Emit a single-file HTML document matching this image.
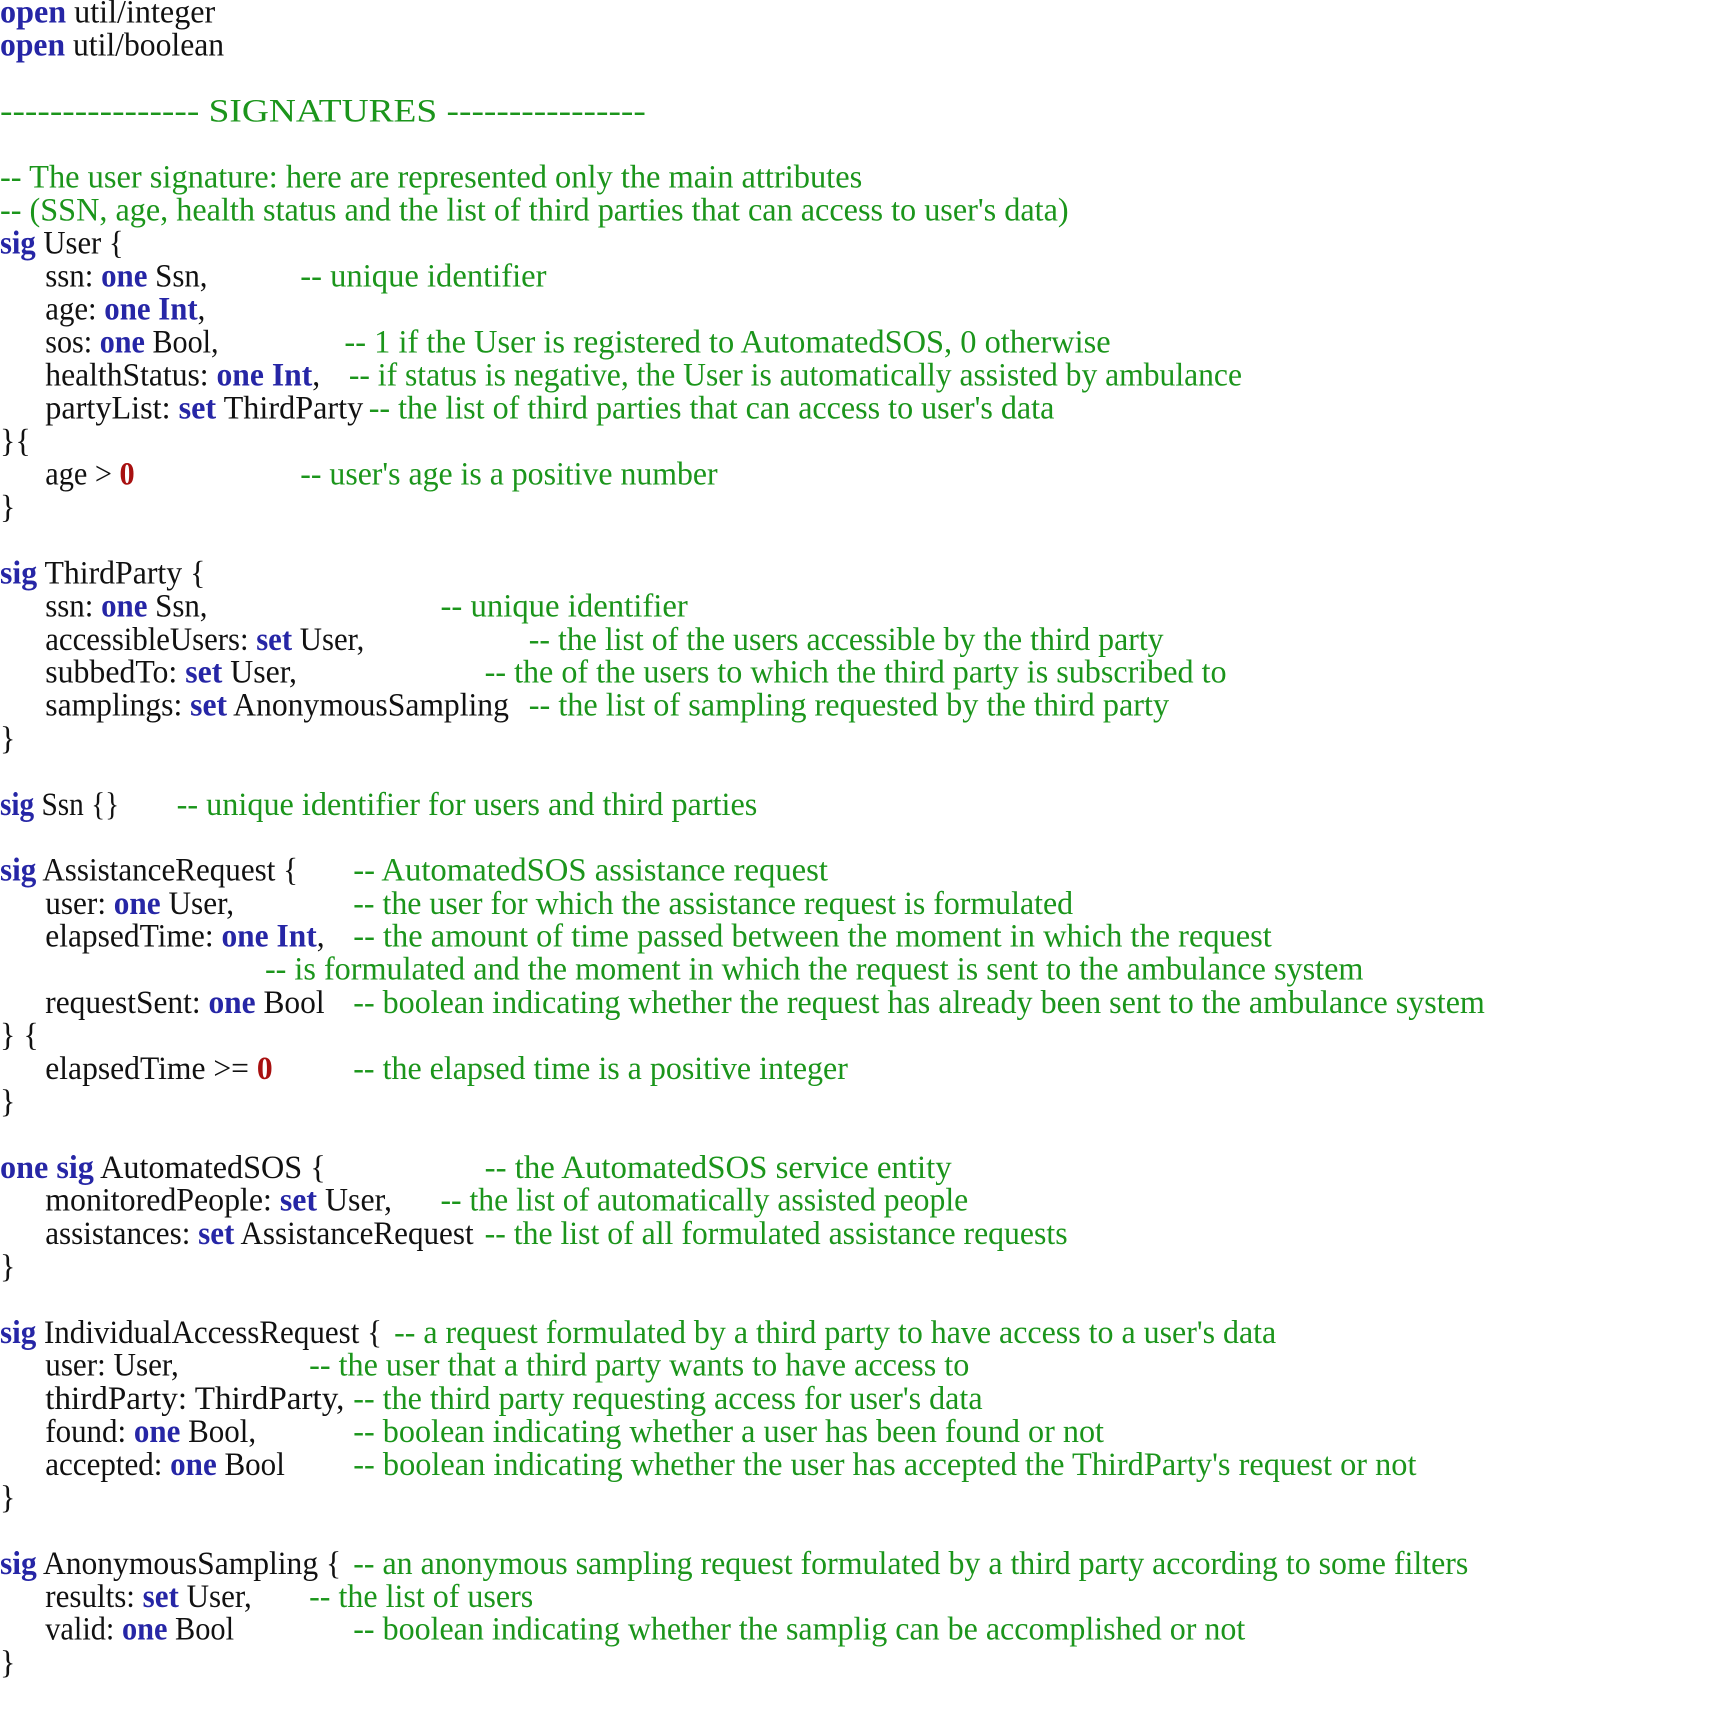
<!DOCTYPE html>
<html><head><meta charset="utf-8"><style>
html,body{margin:0;padding:0;background:#fff;width:1730px;height:1709px;overflow:hidden}
text{font-family:"Liberation Serif",serif;font-size:29px;fill:#111}
.k{fill:#2626a6;font-weight:bold}.c{fill:#1b951b}.n{fill:#a81010;font-weight:bold}
</style></head><body>
<svg width="1730" height="1709" viewBox="0 0 1730 1709" xmlns="http://www.w3.org/2000/svg">
<g transform="scale(1.104,1.1126)">
<text x="0" y="20.4" textLength="195" lengthAdjust="spacingAndGlyphs"><tspan class="k">open</tspan> util/integer</text>
<text x="0" y="50.1" textLength="203" lengthAdjust="spacingAndGlyphs"><tspan class="k">open</tspan> util/boolean</text>
<text class="c" x="0" y="109.4" textLength="585" lengthAdjust="spacingAndGlyphs">---------------- SIGNATURES ----------------</text>
<text class="c" x="0" y="168.7" textLength="781" lengthAdjust="spacingAndGlyphs">-- The user signature: here are represented only the main attributes</text>
<text class="c" x="0" y="198.4" textLength="968" lengthAdjust="spacingAndGlyphs">-- (SSN, age, health status and the list of third parties that can access to user's data)</text>
<text x="0" y="228.0" textLength="112" lengthAdjust="spacingAndGlyphs"><tspan class="k">sig</tspan> User {</text>
<text x="41" y="257.7" textLength="147" lengthAdjust="spacingAndGlyphs">ssn: <tspan class="k">one</tspan> Ssn,</text>
<text class="c" x="272" y="257.7" textLength="223" lengthAdjust="spacingAndGlyphs">-- unique identifier</text>
<text x="41" y="287.4" textLength="145" lengthAdjust="spacingAndGlyphs">age: <tspan class="k">one Int</tspan>,</text>
<text x="41" y="317.0" textLength="157" lengthAdjust="spacingAndGlyphs">sos: <tspan class="k">one</tspan> Bool,</text>
<text class="c" x="312" y="317.0" textLength="694" lengthAdjust="spacingAndGlyphs">-- 1 if the User is registered to AutomatedSOS, 0 otherwise</text>
<text x="41" y="346.7" textLength="249" lengthAdjust="spacingAndGlyphs">healthStatus: <tspan class="k">one Int</tspan>,</text>
<text class="c" x="316" y="346.7" textLength="809" lengthAdjust="spacingAndGlyphs">-- if status is negative, the User is automatically assisted by ambulance</text>
<text x="41" y="376.3" textLength="288" lengthAdjust="spacingAndGlyphs">partyList: <tspan class="k">set</tspan> ThirdParty</text>
<text class="c" x="334" y="376.3" textLength="621" lengthAdjust="spacingAndGlyphs">-- the list of third parties that can access to user's data</text>
<text x="0" y="406.0">}{</text>
<text x="41" y="435.7" textLength="81" lengthAdjust="spacingAndGlyphs">age &gt; <tspan class="n">0</tspan></text>
<text class="c" x="272" y="435.7" textLength="378" lengthAdjust="spacingAndGlyphs">-- user's age is a positive number</text>
<text x="0" y="465.3">}</text>
<text x="0" y="524.6" textLength="186" lengthAdjust="spacingAndGlyphs"><tspan class="k">sig</tspan> ThirdParty {</text>
<text x="41" y="554.3" textLength="147" lengthAdjust="spacingAndGlyphs">ssn: <tspan class="k">one</tspan> Ssn,</text>
<text class="c" x="399" y="554.3" textLength="224" lengthAdjust="spacingAndGlyphs">-- unique identifier</text>
<text x="41" y="584.0" textLength="289" lengthAdjust="spacingAndGlyphs">accessibleUsers: <tspan class="k">set</tspan> User,</text>
<text class="c" x="479" y="584.0" textLength="575" lengthAdjust="spacingAndGlyphs">-- the list of the users accessible by the third party</text>
<text x="41" y="613.6" textLength="228" lengthAdjust="spacingAndGlyphs">subbedTo: <tspan class="k">set</tspan> User,</text>
<text class="c" x="439" y="613.6" textLength="672" lengthAdjust="spacingAndGlyphs">-- the of the users to which the third party is subscribed to</text>
<text x="41" y="643.3" textLength="420" lengthAdjust="spacingAndGlyphs">samplings: <tspan class="k">set</tspan> AnonymousSampling</text>
<text class="c" x="479" y="643.3" textLength="580" lengthAdjust="spacingAndGlyphs">-- the list of sampling requested by the third party</text>
<text x="0" y="673.0">}</text>
<text x="0" y="732.3" textLength="108" lengthAdjust="spacingAndGlyphs"><tspan class="k">sig</tspan> Ssn {}</text>
<text class="c" x="160" y="732.3" textLength="526" lengthAdjust="spacingAndGlyphs">-- unique identifier for users and third parties</text>
<text x="0" y="791.6" textLength="270" lengthAdjust="spacingAndGlyphs"><tspan class="k">sig</tspan> AssistanceRequest {</text>
<text class="c" x="320" y="791.6" textLength="430" lengthAdjust="spacingAndGlyphs">-- AutomatedSOS assistance request</text>
<text x="41" y="821.3" textLength="171" lengthAdjust="spacingAndGlyphs">user: <tspan class="k">one</tspan> User,</text>
<text class="c" x="320" y="821.3" textLength="652" lengthAdjust="spacingAndGlyphs">-- the user for which the assistance request is formulated</text>
<text x="41" y="850.9" textLength="253" lengthAdjust="spacingAndGlyphs">elapsedTime: <tspan class="k">one Int</tspan>,</text>
<text class="c" x="320" y="850.9" textLength="832" lengthAdjust="spacingAndGlyphs">-- the amount of time passed between the moment in which the request</text>
<text class="c" x="240" y="880.6" textLength="995" lengthAdjust="spacingAndGlyphs">-- is formulated and the moment in which the request is sent to the ambulance system</text>
<text x="41" y="910.3" textLength="253" lengthAdjust="spacingAndGlyphs">requestSent: <tspan class="k">one</tspan> Bool</text>
<text class="c" x="320" y="910.3" textLength="1025" lengthAdjust="spacingAndGlyphs">-- boolean indicating whether the request has already been sent to the ambulance system</text>
<text x="0" y="939.9">} {</text>
<text x="41" y="969.6" textLength="206" lengthAdjust="spacingAndGlyphs">elapsedTime &gt;= <tspan class="n">0</tspan></text>
<text class="c" x="320" y="969.6" textLength="448" lengthAdjust="spacingAndGlyphs">-- the elapsed time is a positive integer</text>
<text x="0" y="999.3">}</text>
<text x="0" y="1058.6" textLength="295" lengthAdjust="spacingAndGlyphs"><tspan class="k">one sig</tspan> AutomatedSOS {</text>
<text class="c" x="439" y="1058.6" textLength="423" lengthAdjust="spacingAndGlyphs">-- the AutomatedSOS service entity</text>
<text x="41" y="1088.2" textLength="314" lengthAdjust="spacingAndGlyphs">monitoredPeople: <tspan class="k">set</tspan> User,</text>
<text class="c" x="399" y="1088.2" textLength="478" lengthAdjust="spacingAndGlyphs">-- the list of automatically assisted people</text>
<text x="41" y="1117.9" textLength="388" lengthAdjust="spacingAndGlyphs">assistances: <tspan class="k">set</tspan> AssistanceRequest</text>
<text class="c" x="439" y="1117.9" textLength="528" lengthAdjust="spacingAndGlyphs">-- the list of all formulated assistance requests</text>
<text x="0" y="1147.6">}</text>
<text x="0" y="1206.9" textLength="346" lengthAdjust="spacingAndGlyphs"><tspan class="k">sig</tspan> IndividualAccessRequest {</text>
<text class="c" x="357" y="1206.9" textLength="799" lengthAdjust="spacingAndGlyphs">-- a request formulated by a third party to have access to a user's data</text>
<text x="41" y="1236.5" textLength="121" lengthAdjust="spacingAndGlyphs">user: User,</text>
<text class="c" x="280" y="1236.5" textLength="598" lengthAdjust="spacingAndGlyphs">-- the user that a third party wants to have access to</text>
<text x="41" y="1266.2" textLength="271" lengthAdjust="spacingAndGlyphs">thirdParty: ThirdParty,</text>
<text class="c" x="320" y="1266.2" textLength="570" lengthAdjust="spacingAndGlyphs">-- the third party requesting access for user's data</text>
<text x="41" y="1295.9" textLength="191" lengthAdjust="spacingAndGlyphs">found: <tspan class="k">one</tspan> Bool,</text>
<text class="c" x="320" y="1295.9" textLength="680" lengthAdjust="spacingAndGlyphs">-- boolean indicating whether a user has been found or not</text>
<text x="41" y="1325.5" textLength="217" lengthAdjust="spacingAndGlyphs">accepted: <tspan class="k">one</tspan> Bool</text>
<text class="c" x="320" y="1325.5" textLength="963" lengthAdjust="spacingAndGlyphs">-- boolean indicating whether the user has accepted the ThirdParty's request or not</text>
<text x="0" y="1355.2">}</text>
<text x="0" y="1414.5" textLength="309" lengthAdjust="spacingAndGlyphs"><tspan class="k">sig</tspan> AnonymousSampling {</text>
<text class="c" x="320" y="1414.5" textLength="1010" lengthAdjust="spacingAndGlyphs">-- an anonymous sampling request formulated by a third party according to some filters</text>
<text x="41" y="1444.2" textLength="187" lengthAdjust="spacingAndGlyphs">results: <tspan class="k">set</tspan> User,</text>
<text class="c" x="280" y="1444.2" textLength="203" lengthAdjust="spacingAndGlyphs">-- the list of users</text>
<text x="41" y="1473.8" textLength="171" lengthAdjust="spacingAndGlyphs">valid: <tspan class="k">one</tspan> Bool</text>
<text class="c" x="320" y="1473.8" textLength="808" lengthAdjust="spacingAndGlyphs">-- boolean indicating whether the samplig can be accomplished or not</text>
<text x="0" y="1503.5">}</text>
</g>
</svg>
</body></html>
